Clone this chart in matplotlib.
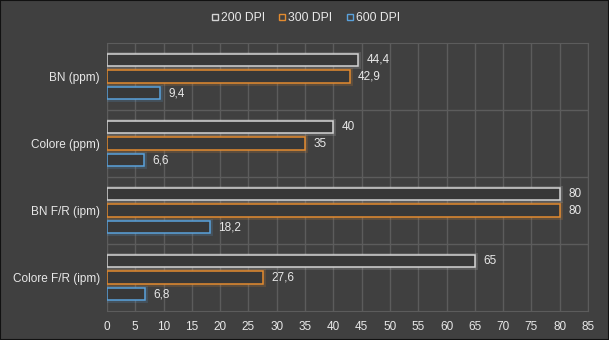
import matplotlib.pyplot as plt
from matplotlib.lines import Line2D
import numpy as np

categories = ['BN (ppm)', 'Colore (ppm)', 'BN F/R (ipm)', 'Colore F/R (ipm)']
series_names = ['200 DPI', '300 DPI', '600 DPI']
dpi200 = [44.4, 40, 80, 65]
dpi300 = [42.9, 35, 80, 27.6]
dpi600 = [9.4, 6.6, 18.2, 6.8]
x_ticks = list(range(0, 90, 5))

bg = '#404040'
grid_c = '#5c5c5c'
text_c = '#e8e8e8'
colors = ['#d4d4d4', '#e38b2f', '#5aa2dc']

plt.rcParams['font.family'] = ['Liberation Sans', 'DejaVu Sans']

fig = plt.figure(figsize=(6.09, 3.40), dpi=100, facecolor=bg)
ax = fig.add_axes([0.1757, 0.0853, 0.7898, 0.7882])
ax.set_facecolor(bg)

y = np.arange(len(categories))
offsets = [-0.25, 0.0, 0.25]
h = 0.18
for vals, off, col, name in zip([dpi200, dpi300, dpi600], offsets, colors, series_names):
    # soft glow under the outline
    ax.barh(y + off, vals, height=h, facecolor='none', edgecolor=col,
            linewidth=3.5, alpha=0.18, zorder=3)
    ax.barh(y + off, vals, height=h, facecolor='#383838', edgecolor=col,
            linewidth=1.1, zorder=4, label=name)
    for yy, v in zip(y + off, vals):
        ax.annotate(('%g' % v).replace('.', ','), (v, yy), xytext=(6, 0),
                    textcoords='offset points', va='center', ha='left',
                    color=text_c, fontsize=8.5, zorder=5)

ax.set_xlim(0, 85)
ax.set_ylim(len(categories) - 0.5, -0.5)
ax.set_xticks(x_ticks)
ax.set_yticks(y)
ax.set_yticklabels(categories)
ax.set_yticks(np.arange(0.5, len(categories) - 0.5, 1.0), minor=True)
ax.tick_params(axis='both', which='both', length=0, colors=text_c, labelsize=8.5)
ax.tick_params(axis='x', pad=7)
ax.tick_params(axis='y', pad=5)
ax.grid(axis='x', which='major', color=grid_c, linewidth=1, zorder=0)
ax.grid(axis='y', which='minor', color=grid_c, linewidth=1, zorder=0)
for side in ['top', 'right', 'bottom']:
    ax.spines[side].set_color(grid_c)
ax.spines['left'].set_visible(False)
ax.set_axisbelow(True)

handles = [Line2D([], [], marker='s', linestyle='none', markersize=5,
                  markerfacecolor=bg, markeredgecolor=c, markeredgewidth=1.0)
           for c in colors]
leg = fig.legend(handles, series_names, loc='center', bbox_to_anchor=(0.5, 0.947),
                 ncol=3, frameon=False, fontsize=8.7, handletextpad=0.0,
                 columnspacing=0.9, handlelength=1.0)
for t in leg.get_texts():
    t.set_color(text_c)

# thin dark frame round the picture
fig.patches.append(plt.Rectangle((0, 0), 1, 1, transform=fig.transFigure,
                                 fill=False, edgecolor='#111111', linewidth=1.5))

fig.savefig('out.png', dpi=100, facecolor=bg)
